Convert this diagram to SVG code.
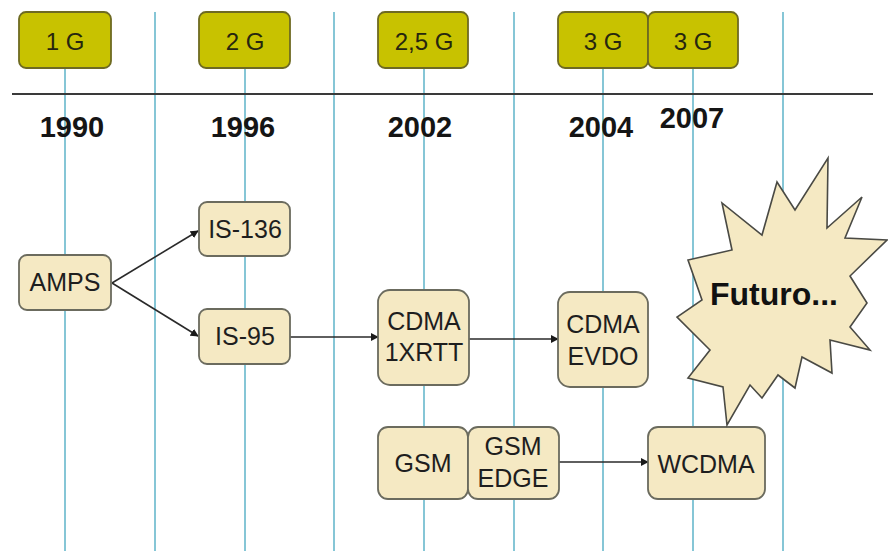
<svg xmlns="http://www.w3.org/2000/svg" width="888" height="551" viewBox="0 0 888 551">
  <style>
    .grid { stroke: #86c6d6; stroke-width: 2; fill: none; }
    .axis { stroke: #3a3a3a; stroke-width: 2; }
    .tab { fill: #c8c200; stroke: #6e6a22; stroke-width: 1.8; }
    .tabtxt { font-family: "Liberation Sans", Arial, sans-serif; font-size: 24px; fill: #26260f; text-anchor: middle; }
    .year { font-family: "Liberation Sans", Arial, sans-serif; font-size: 29px; font-weight: bold; fill: #151515; text-anchor: middle; }
    .box { fill: #f5e9c3; stroke: #6b6b5e; stroke-width: 1.8; }
    .lbl { font-family: "Liberation Sans", Arial, sans-serif; font-size: 25px; fill: #1e1e1e; text-anchor: middle; }
    .edge { stroke: #2a2a2a; stroke-width: 1.6; fill: none; marker-end: url(#arrow); }
    .burst { fill: #f5e9c3; stroke: #4a4a44; stroke-width: 1.6; stroke-linejoin: miter; }
    .big { font-family: "Liberation Sans", Arial, sans-serif; font-size: 32px; font-weight: bold; fill: #111; }
  </style>
  <defs>
    <marker id="arrow" viewBox="0 0 10 10" refX="9" refY="5" markerWidth="8" markerHeight="8" orient="auto" markerUnits="userSpaceOnUse">
      <path d="M0,0 L10,5 L0,10 z" fill="#1a1a1a"/>
    </marker>
  </defs>
  <rect width="888" height="551" fill="#ffffff"/>

  <!-- timeline grid -->
  <g id="grid">
    <line class="grid" x1="65" y1="68" x2="65" y2="551"/>
    <line class="grid" x1="155" y1="12" x2="155" y2="551"/>
    <line class="grid" x1="245" y1="68" x2="245" y2="551"/>
    <line class="grid" x1="334" y1="12" x2="334" y2="551"/>
    <line class="grid" x1="424" y1="68" x2="424" y2="551"/>
    <line class="grid" x1="514" y1="12" x2="514" y2="551"/>
    <line class="grid" x1="603" y1="68" x2="603" y2="551"/>
    <line class="grid" x1="693" y1="68" x2="693" y2="551"/>
    <line class="grid" x1="783" y1="12" x2="783" y2="551"/>
    <line class="axis" x1="12" y1="94" x2="873" y2="94"/>
  </g>

  <!-- generation tabs -->
  <g id="tab-1g"><rect class="tab" x="19" y="12" width="92" height="56" rx="7"/><text class="tabtxt" x="65" y="50">1 G</text></g>
  <g id="tab-2g"><rect class="tab" x="199" y="12" width="91" height="56" rx="7"/><text class="tabtxt" x="245" y="50">2 G</text></g>
  <g id="tab-25g"><rect class="tab" x="378" y="12" width="90" height="56" rx="7"/><text class="tabtxt" x="424" y="50">2,5 G</text></g>
  <g id="tab-3g-a"><rect class="tab" x="558" y="12" width="90" height="56" rx="7"/><text class="tabtxt" x="603" y="50">3 G</text></g>
  <g id="tab-3g-b"><rect class="tab" x="648" y="12" width="90" height="56" rx="7"/><text class="tabtxt" x="693" y="50">3 G</text></g>

  <!-- years -->
  <g id="years">
    <text class="year" x="72" y="137">1990</text>
    <text class="year" x="243" y="137">1996</text>
    <text class="year" x="420" y="137">2002</text>
    <text class="year" x="601" y="137">2004</text>
    <text class="year" x="692" y="128">2007</text>
  </g>

  <!-- connectors -->
  <g id="connectors">
    <path class="edge" d="M112,283 L198,231"/>
    <path class="edge" d="M112,283 L198,336"/>
    <path class="edge" d="M290,337 L378,337"/>
    <path class="edge" d="M469,339 L558,339"/>
    <path class="edge" d="M559,462 L648,462"/>
  </g>

  <!-- technology nodes -->
  <g id="amps"><rect class="box" x="19" y="255" width="92" height="55" rx="8"/><text class="lbl" x="65" y="291">AMPS</text></g>
  <g id="is136"><rect class="box" x="199" y="202" width="91" height="54" rx="8"/><text class="lbl" x="245" y="238">IS-136</text></g>
  <g id="is95"><rect class="box" x="199" y="309" width="91" height="55" rx="8"/><text class="lbl" x="245" y="345">IS-95</text></g>
  <g id="cdma1x"><rect class="box" x="378" y="290" width="91" height="95" rx="12"/><text class="lbl" x="424" y="330">CDMA</text><text class="lbl" x="424" y="361">1XRTT</text></g>
  <g id="evdo"><rect class="box" x="558" y="292" width="90" height="95" rx="12"/><text class="lbl" x="603" y="333">CDMA</text><text class="lbl" x="603" y="365">EVDO</text></g>
  <g id="gsm"><rect class="box" x="378" y="427" width="90" height="72" rx="10"/><text class="lbl" x="423" y="472">GSM</text></g>
  <g id="gsm-edge"><rect class="box" x="468" y="427" width="91" height="72" rx="10"/><text class="lbl" x="513" y="455">GSM</text><text class="lbl" x="513" y="487">EDGE</text></g>
  <g id="wcdma"><rect class="box" x="648" y="427" width="117" height="72" rx="10"/><text class="lbl" x="706" y="473">WCDMA</text></g>

  <!-- starburst -->
  <g id="futuro">
    <polygon class="burst" points="828,158 827,228 862,197 845,238 887,240 850,276 867,303 850,327 870,350 830,340 832,373 802,357 795,388 778,375 762,398 750,385 727,425 723,387 688,378 710,350 677,317 702,300 688,260 732,250 722,203 762,235 777,182 795,210"/>
    <text class="big" x="710" y="305">Futuro...</text>
  </g>
</svg>
